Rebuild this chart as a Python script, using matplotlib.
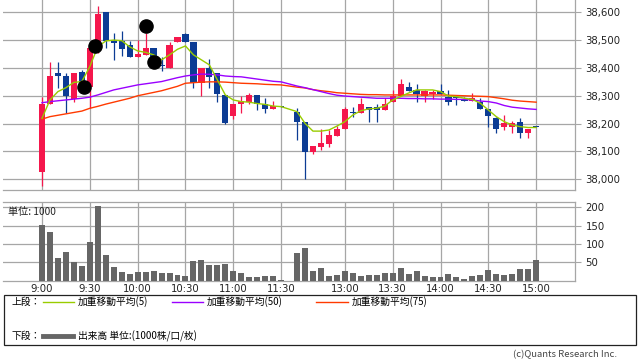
import matplotlib
matplotlib.use("Agg")
import matplotlib.pyplot as plt
import numpy as np
from matplotlib.patches import Rectangle

# ---------------- data ----------------
# 5-minute candles, morning 9:00-11:30, afternoon 12:30-15:00
opens = [38027, 38269, 38382, 38371, 38287, 38385, 38330, 38471, 38601, 38498,
         38498, 38481, 38440, 38447, 38471, 38411, 38399, 38492, 38522, 38492,
         38347, 38399, 38381, 38303, 38228, 38269, 38279, 38303, 38269, 38251, 38262,
         38243, 38207, 38099, 38117, 38127, 38157, 38180, 38241, 38239, 38259,
         38259, 38249, 38279, 38300, 38330, 38321, 38300, 38305, 38318, 38297,
         38295, 38289, 38281, 38279, 38251, 38221, 38187, 38189, 38207, 38167, 38190]
highs = [38297, 38422, 38422, 38382, 38382, 38392, 38480, 38624, 38601, 38525,
         38534, 38498, 38500, 38525, 38471, 38440, 38492, 38510, 38525, 38492,
         38399, 38431, 38381, 38303, 38270, 38300, 38309, 38303, 38291, 38281, 38262,
         38255, 38207, 38121, 38180, 38177, 38192, 38260, 38259, 38291, 38259,
         38270, 38291, 38321, 38360, 38348, 38342, 38321, 38320, 38342, 38321,
         38300, 38295, 38309, 38293, 38251, 38225, 38231, 38209, 38219, 38180, 38190]
lows = [37977, 38269, 38329, 38239, 38279, 38320, 38255, 38453, 38471, 38429,
        38443, 38440, 38440, 38447, 38410, 38390, 38399, 38492, 38492, 38329,
        38300, 38329, 38279, 38198, 38215, 38239, 38269, 38249, 38239, 38251, 38259,
        38141, 38000, 38090, 38105, 38117, 38157, 38180, 38225, 38239, 38207,
        38207, 38249, 38279, 38300, 38317, 38279, 38279, 38290, 38305, 38267,
        38267, 38281, 38281, 38251, 38189, 38168, 38177, 38168, 38149, 38149, 38189]
closes = [38270, 38371, 38370, 38300, 38382, 38345, 38471, 38594, 38498, 38491,
          38469, 38440, 38450, 38471, 38422, 38406, 38482, 38510, 38492, 38347,
          38399, 38369, 38305, 38203, 38270, 38281, 38303, 38269, 38251, 38263, 38259,
          38207, 38099, 38121, 38131, 38159, 38181, 38253, 38239, 38270, 38249,
          38249, 38270, 38300, 38342, 38317, 38306, 38318, 38315, 38305, 38279,
          38292, 38281, 38293, 38251, 38228, 38180, 38201, 38201, 38167, 38180, 38189]
volumes = [152, 133, 63, 79, 52, 41, 106, 202, 70, 38,
           25, 18, 25, 25, 27, 22, 22, 16, 14, 54,
           56, 43, 43, 45, 26, 20, 10, 10, 13, 13, 2,
           76, 90, 26, 35, 14, 15, 26, 21, 13, 15,
           15, 21, 21, 35, 18, 26, 13, 10, 10, 18,
           10, 4, 13, 15, 29, 18, 15, 18, 32, 32, 56]
wma5 = [38219, 38285, 38315, 38329, 38348, 38351, 38405, 38476, 38497, 38500,
        38498, 38476, 38461, 38456, 38447, 38429, 38447, 38467, 38479, 38447,
        38429, 38411, 38357, 38303, 38285, 38279, 38277, 38272, 38269, 38263, 38261,
        38243, 38201, 38173, 38173, 38177, 38191, 38207, 38231, 38246, 38253,
        38255, 38263, 38285, 38297, 38310, 38321, 38321, 38321, 38315, 38299,
        38297, 38291, 38287, 38273, 38249, 38225, 38207, 38195, 38189, 38186, 38186]
wma50 = [38275, 38279, 38282, 38285, 38288, 38291, 38295, 38303, 38312, 38321,
         38327, 38333, 38339, 38343, 38347, 38351, 38358, 38365, 38371, 38375,
         38378, 38377, 38375, 38371, 38369, 38368, 38364, 38360, 38356, 38352, 38350,
         38335, 38329, 38322, 38315, 38308, 38302, 38299, 38297, 38295, 38293,
         38291, 38291, 38291, 38291, 38290, 38290, 38289, 38289, 38288, 38288,
         38287, 38287, 38285, 38281, 38279, 38274, 38265, 38259, 38256, 38253, 38251]
wma75 = [38216, 38225, 38230, 38235, 38240, 38245, 38255, 38262, 38270, 38277,
         38284, 38291, 38300, 38306, 38312, 38318, 38326, 38334, 38345, 38347,
         38349, 38350, 38350, 38349, 38347, 38345, 38344, 38343, 38341, 38340, 38339,
         38331, 38328, 38322, 38318, 38315, 38311, 38309, 38307, 38305, 38304,
         38304, 38303, 38303, 38303, 38303, 38303, 38303, 38303, 38303, 38302,
         38301, 38300, 38299, 38298, 38297, 38293, 38289, 38284, 38281, 38279, 38277]
# signal dots: (slot position, price)
dot_slots = [5.3, 6.6, 13.1, 14.1]
dot_prices = [38331, 38479, 38551, 38422]

price_ticks = [38000, 38100, 38200, 38300, 38400, 38500, 38600]
vol_ticks = [50, 100, 150, 200]
time_tick_labels = ["9:00", "9:30", "10:00", "10:30", "11:00", "11:30",
                    "13:00", "13:30", "14:00", "14:30", "15:00"]

# ---------------- positions ----------------
def slot(t):
    h, m = map(int, t.split(":"))
    mins = h * 60 + m - 540
    s = mins / 5
    if mins > 150:          # afternoon session: collapse lunch break
        s -= 10
    return s

times = [f"{(540 + 5*i)//60}:{(540 + 5*i) % 60:02d}" for i in range(31)] + \
        [f"{(750 + 5*i)//60}:{(750 + 5*i) % 60:02d}" for i in range(31)]
x = np.array([slot(t) for t in times])
tick_x = [slot(t) for t in time_tick_labels]

RED = "#f5174c"
BLUE = "#0c3c94"
GRID = "#a6a6a6"

W, H = 640, 362
fig = plt.figure(figsize=(6.4, 3.62), dpi=100)

def px_axes(l, t, r, b):
    return fig.add_axes([l / W, 1 - b / H, (r - l) / W, (b - t) / H])

ax = px_axes(3, 0, 575, 190)
axv = px_axes(3, 201.7, 575, 280.7)

xl = ((3 - 42) / 7.97, (575 - 42) / 7.97)

# ---- price panel ----
o = np.array(opens); c = np.array(closes); hi = np.array(highs); lo = np.array(lows)
cols = [RED if cc >= oo else BLUE for oo, cc in zip(o, c)]
ax.vlines(x, lo, hi, colors=cols, linewidth=0.9, zorder=3)
bot = np.minimum(o, c)
hgt = np.maximum(np.abs(c - o), 1.5)
ax.bar(x, hgt, bottom=bot, width=0.78, color=cols, edgecolor="none", zorder=4)
ax.plot(x, wma75, color="#ff3a00", linewidth=1.0, zorder=5)
ax.plot(x, wma50, color="#9a00ff", linewidth=1.0, zorder=5)
ax.plot(x, wma5, color="#99cc00", linewidth=1.0, zorder=6)
ax.scatter(dot_slots, dot_prices, s=90, color="black", zorder=7)

ax.set_xlim(*xl)
ax.set_ylim(37961.5, 38644)
ax.set_yticks(price_ticks)
ax.set_yticklabels([f"{v:,}" for v in price_ticks])
ax.set_xticks(tick_x)
ax.tick_params(axis="x", length=0, labelbottom=False)
ax.yaxis.tick_right()
ax.tick_params(axis="y", length=4.5, width=0.8, color=GRID, pad=3,
               labelsize=7.3, labelcolor="#222222")
ax.grid(True, color=GRID, linewidth=0.9, zorder=0)
ax.set_axisbelow(True)
for s in ["top", "left"]:
    ax.spines[s].set_visible(False)
for s in ["bottom", "right"]:
    ax.spines[s].set_color(GRID)
    ax.spines[s].set_linewidth(0.9)

# ---- volume panel ----
axv.bar(x, volumes, width=0.75, color="#666666", edgecolor="none", zorder=3)
axv.set_xlim(*xl)
axv.set_ylim(0, 215)
axv.set_yticks(vol_ticks)
axv.set_xticks(tick_x)
axv.set_xticklabels(time_tick_labels)
axv.yaxis.tick_right()
axv.tick_params(axis="y", length=4.5, width=0.8, color=GRID, pad=3,
                labelsize=7.3, labelcolor="#222222")
axv.tick_params(axis="x", length=0, pad=2.5, labelsize=7.3, labelcolor="#222222")
axv.grid(True, color=GRID, linewidth=0.9, zorder=0)
axv.set_axisbelow(True)
axv.spines["left"].set_visible(False)
for s in ["top", "bottom", "right"]:
    axv.spines[s].set_color(GRID)
    axv.spines[s].set_linewidth(0.9)
axv.text(0.009, 0.93, "単位: 1000", transform=axv.transAxes, ha="left", va="top",
         fontsize=7.3, family=["Noto Sans CJK JP", "DejaVu Sans"], color="#222222")

# ---- legend overlay ----
ov = fig.add_axes([0, 0, 1, 1])
ov.set_xlim(0, W); ov.set_ylim(H, 0); ov.axis("off")
ov.add_patch(Rectangle((3.5, 294.5), 632, 50, fill=False, edgecolor="#222222", linewidth=0.9))
jp = ["Noto Sans CJK JP", "DejaVu Sans"]
fs = 7.0
ov.text(11, 302, "上段：", fontsize=fs, family=jp, va="center", ha="left")
ov.plot([43, 74], [302, 302], color="#99cc00", linewidth=1.0)
ov.text(78, 302, "加重移動平均(5)", fontsize=fs, family=jp, va="center", ha="left")
ov.plot([172, 203], [302, 302], color="#9a00ff", linewidth=1.0)
ov.text(207, 302, "加重移動平均(50)", fontsize=fs, family=jp, va="center", ha="left")
ov.plot([316, 348], [302, 302], color="#ff3a00", linewidth=1.0)
ov.text(352, 302, "加重移動平均(75)", fontsize=fs, family=jp, va="center", ha="left")
ov.text(11, 336, "下段：", fontsize=fs, family=jp, va="center", ha="left")
ov.plot([43, 73], [336, 336], color="#666666", linewidth=3.5)
ov.text(78, 336, "出来高 単位:(1000株/口/枚)", fontsize=fs, family=jp, va="center", ha="left")
ov.text(617, 355, "(c)Quants Research Inc.", fontsize=6.8, family=jp, va="center",
        ha="right", color="#444444")

fig.savefig("out.png", dpi=100)
